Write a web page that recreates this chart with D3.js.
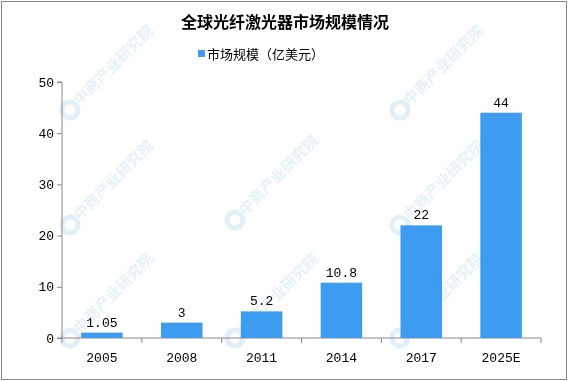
<!DOCTYPE html>
<html lang="zh">
<head>
<meta charset="UTF-8">
<title>全球光纤激光器市场规模情况</title>
<script src="https://d3js.org/d3.v7.min.js"></script>
<style>
  body { margin: 0; background: #fff; }
  .axis text { font-family: "Liberation Mono", "DejaVu Sans Mono", monospace; font-size: 13px; fill: #000; }
  .axis path, .axis line { stroke: #898989; }
  .label { font-family: "Liberation Mono", "DejaVu Sans Mono", monospace; font-size: 13px; fill: #000; }
</style>
</head>
<body>
<div id="chart"></div>
<script>
const years = ["2005", "2008", "2011", "2014", "2017", "2025E"];
const values = [1.05, 3, 5.2, 10.8, 22, 44];
const valueLabels = ["1.05", "3", "5.2", "10.8", "22", "44"];
const yTicks = [0, 10, 20, 30, 40, 50];
const seriesName = "市场规模（亿美元）";
const title = "全球光纤激光器市场规模情况";

const W = 570, H = 381;
const margin = { top: 82, right: 29, bottom: 43, left: 62 };
const width = W - margin.left - margin.right;
const height = H - margin.top - margin.bottom;

const svg = d3.select("#chart").append("svg")
  .attr("width", W).attr("height", H);

svg.append("rect")
  .attr("x", 1.5).attr("y", 1.5)
  .attr("width", W - 5).attr("height", H - 3)
  .attr("fill", "#fff").attr("stroke", "#898989");

// faint watermark
const wm = svg.append("g").attr("opacity", 0.3);
const wmSpots = [[70, 110], [400, 110], [70, 225], [235, 220], [400, 225], [70, 338], [235, 338], [400, 338]];
wmSpots.forEach(([x, y]) => {
  const m = wm.append("g").attr("transform", `translate(${x},${y})`);
  m.append("circle").attr("r", 8).attr("fill", "none").attr("stroke", "#9cc8e8").attr("stroke-width", 5);
  m.append("text").attr("transform", "translate(10,-4) rotate(-45)")
    .attr("font-family", "Noto Sans CJK SC").attr("font-size", 15).attr("font-weight", "bold")
    .attr("fill", "#a9cfe9").text("中商产业研究院");
});

svg.append("text")
  .attr("x", W / 2).attr("y", 28)
  .attr("text-anchor", "middle")
  .attr("font-family", "Noto Sans CJK SC").attr("font-weight", "bold")
  .attr("font-size", 16)
  .text(title);

const lg = svg.append("g");
lg.append("rect").attr("x", 198).attr("y", 50).attr("width", 7).attr("height", 7).attr("fill", "#3d9cf0");
lg.append("text").attr("x", 207).attr("y", 59)
  .attr("font-family", "Noto Sans CJK SC").attr("font-size", 13)
  .text(seriesName);

const g = svg.append("g").attr("transform", `translate(${margin.left},${margin.top})`);

const x = d3.scaleBand().domain(years).range([0, width]).paddingInner(0.48).paddingOuter(0.24);
const y = d3.scaleLinear().domain([0, 50]).range([height, 0]);

g.append("g").attr("class", "axis")
  .call(d3.axisLeft(y).tickValues(yTicks).tickSize(5).tickPadding(3))
  .call(a => a.select(".domain").attr("d", `M-5,${height}H0V0H-5`));

const step = x.step();
const xAxis = g.append("g").attr("class", "axis").attr("transform", `translate(0,${height})`);
xAxis.append("path").attr("class", "domain").attr("d", `M0,0H${width}`);
xAxis.selectAll("line.tk").data(d3.range(years.length + 1)).enter().append("line")
  .attr("x1", i => i * step).attr("x2", i => i * step)
  .attr("y1", 0).attr("y2", 5);
xAxis.selectAll("text").data(years).enter().append("text")
  .attr("x", d => x(d) + x.bandwidth() / 2).attr("y", 24)
  .attr("text-anchor", "middle").text(d => d);

g.selectAll("rect.bar").data(values).enter().append("rect")
  .attr("class", "bar")
  .attr("x", (d, i) => x(years[i]))
  .attr("y", d => y(d))
  .attr("width", x.bandwidth())
  .attr("height", d => height - y(d))
  .attr("fill", "#3d9cf0");

g.selectAll("text.label").data(values).enter().append("text")
  .attr("class", "label")
  .attr("x", (d, i) => x(years[i]) + x.bandwidth() / 2)
  .attr("y", d => y(d) - 6)
  .attr("text-anchor", "middle")
  .text((d, i) => valueLabels[i]);
</script>
</body>
</html>
